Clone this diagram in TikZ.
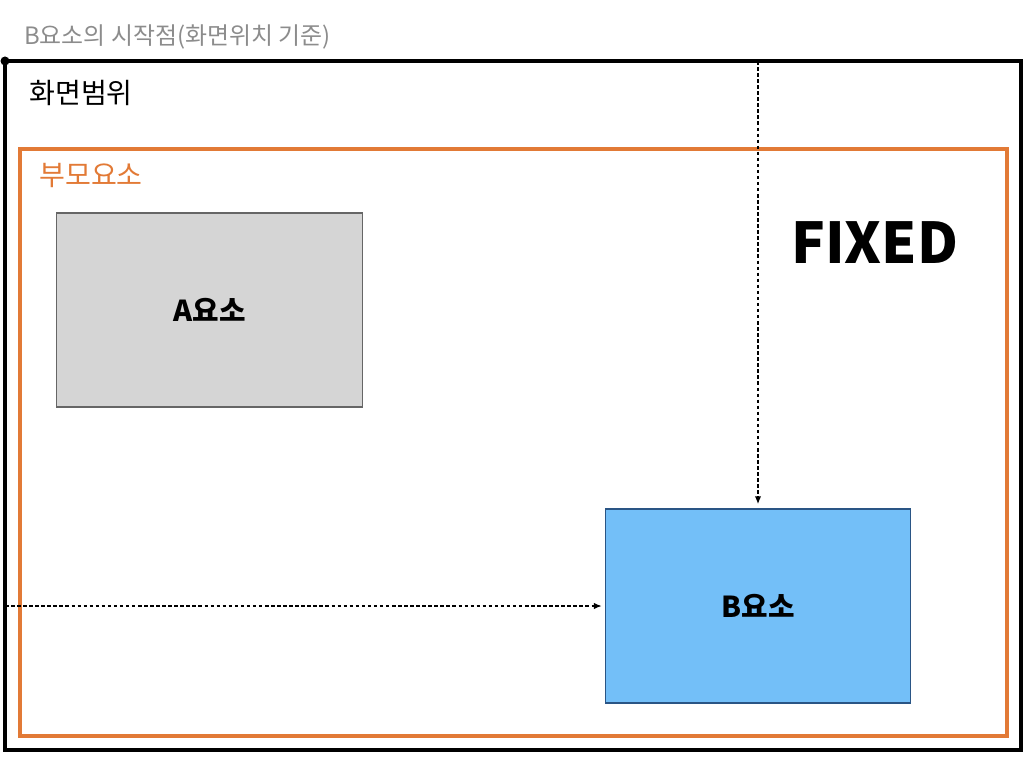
\documentclass[tikz,border=0pt]{standalone}
\usepackage{fontspec}
\setmainfont{Noto Sans CJK KR}
\usepackage{xcolor}
\usetikzlibrary{arrows.meta}

\definecolor{parentorange}{HTML}{E27A36}
\definecolor{boxgray}{HTML}{D5D5D5}
\definecolor{boxblue}{HTML}{73BFF8}
\definecolor{blueedge}{HTML}{2A5585}
\definecolor{notegray}{HTML}{8C8C8C}

\begin{document}
\begin{tikzpicture}[x=0.025cm, y=-0.025cm,
    elem/.style={rectangle, draw, line width=0.9pt, minimum width=7.64cm, minimum height=4.85cm, inner sep=0pt, font=\fontsize{20.5}{22}\selectfont\bfseries},
    guide/.style={-{Latex[length=5.5pt, width=4.5pt]}, line width=0.9pt, dash pattern=on 2.5pt off 1.8pt}]
                    \useasboundingbox (0,0) rectangle (1024,768);

                    % Frames
                    \draw[line width=2.6pt] (5,61) rectangle (1021,750);
                    \draw[parentorange, line width=2.2pt] (20,149) rectangle (1007,736);
                    \fill (5,61) circle (3.2pt);

                    % Labels
                    \node[anchor=west, inner sep=0pt, text=notegray, font=\fontsize{17}{19}\selectfont] (origin) at (24,37) {B요소의 시작점(화면위치 기준)};
                    \node[anchor=west, inner sep=0pt, font=\fontsize{20}{22}\selectfont] (screen) at (29,93) {화면범위};
                    \node[anchor=west, inner sep=0pt, text=parentorange, font=\fontsize{20}{22}\selectfont] (parent) at (39,175) {부모요소};
                    \node[anchor=west, inner sep=0pt, font=\fontsize{40}{44}\selectfont\bfseries] (fixed) at (791,243) {FIXED};

                    % Elements
                    \node[elem, fill=boxgray, draw=black!60] (a) at (209.5,310) {A요소};
                    \node[elem, fill=boxblue, draw=blueedge] (b) at (758,606) {B요소};

                    % Offsets from the screen
                    \coordinate (top) at (758,61);
                    \coordinate (left) at (5,606);
                    \draw[guide] (top) -- ([yshift=3pt]b.north);
                    \draw[guide] (left) -- ([xshift=-2pt]b.west);
                \end{tikzpicture}
\end{document}
